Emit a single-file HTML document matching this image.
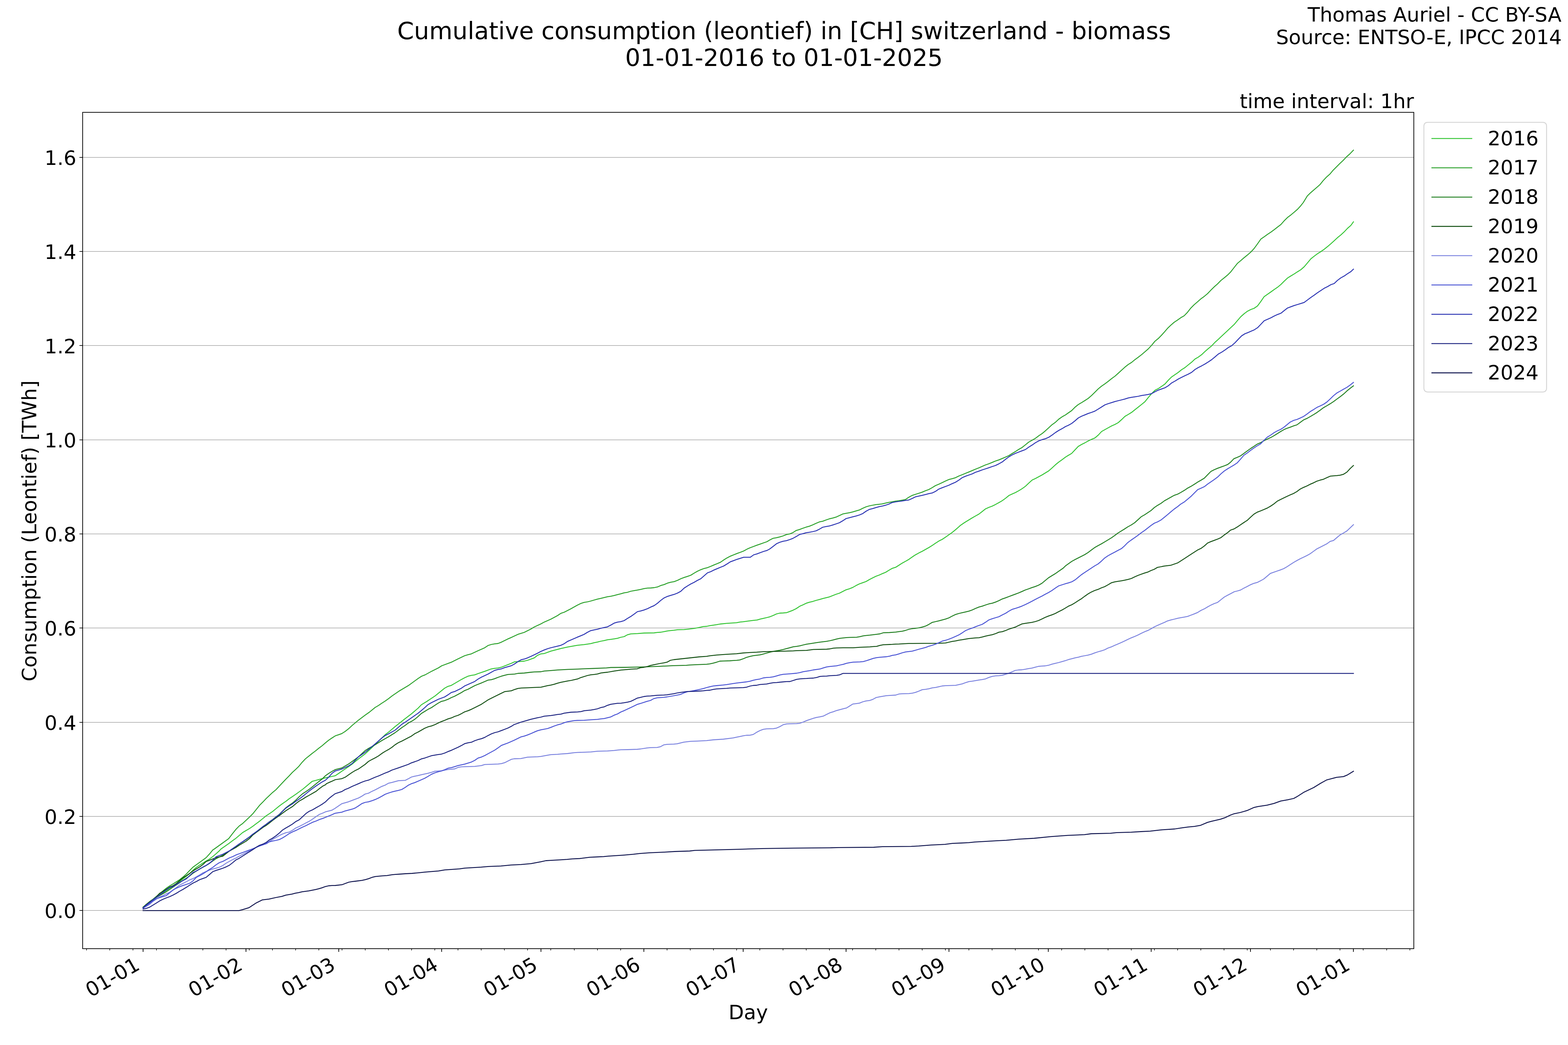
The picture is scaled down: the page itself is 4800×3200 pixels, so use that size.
<!DOCTYPE html>
<html lang="en">
<head>
<meta charset="utf-8">
<title>Cumulative consumption (leontief) in [CH] switzerland - biomass</title>
<style>
html,body{margin:0;padding:0;background:#ffffff;}
body{width:4800px;height:3200px;overflow:hidden;}
svg{display:block;}
svg text{white-space:pre;}
</style>
</head>
<body>
<svg width="4800" height="3200" viewBox="0 0 4800 3200" role="img" aria-label="Cumulative consumption chart">
<defs><clipPath id="axclip"><rect x="253" y="344" width="4075" height="2561"/></clipPath></defs>
<rect x="0" y="0" width="4800" height="3200" fill="#ffffff"/>
<g id="grid" fill="none" stroke="#b0b0b0" stroke-width="2.2222" stroke-linecap="butt">
<path d="M253 2788 H4328"/>
<path d="M253 2500 H4328"/>
<path d="M253 2212 H4328"/>
<path d="M253 1923 H4328"/>
<path d="M253 1635 H4328"/>
<path d="M253 1347 H4328"/>
<path d="M253 1058 H4328"/>
<path d="M253 770 H4328"/>
<path d="M253 482 H4328"/>
</g>
<g id="curves" fill="none" stroke-width="2.7778" stroke-linecap="square" stroke-linejoin="round" clip-path="url(#axclip)">
<path id="y2016" stroke="#31c431" d="M438 2778.8 L447.9 2770.7 L458.1 2762.2 L468.3 2754.6 L478.5 2747.7 L488.7 2740.9 L498.9 2733.9 L509.1 2726.9 L519.3 2719.9 L529.5 2713.5 L539.7 2706.5 L549.9 2699.5 L560.1 2691.2 L570.3 2683.5 L580.5 2675.3 L590.7 2665.1 L600.9 2656.1 L611.1 2649.1 L621.3 2642.7 L630.9 2636.6 L641.1 2630.6 L651.3 2623 L661.5 2614.3 L671.7 2605.1 L676.2 2600 L700 2583.4 L711.5 2574.7 L721.7 2567.3 L732.5 2558.2 L742.7 2549.5 L752.9 2543.5 L763.8 2537.1 L774 2530.1 L784.2 2522.4 L794.4 2514.8 L804.6 2506.5 L814.8 2498.2 L824.4 2491.8 L834.6 2484.8 L844.8 2476.5 L855 2468.2 L865.2 2460.6 L875.4 2453.6 L885.6 2445.7 L895.8 2438.9 L906 2431.9 L916.2 2424.5 L926.4 2417 L936.6 2408.7 L955.6 2392.6 L965.8 2390 L976 2387.2 L986.2 2384.3 L996.4 2381.8 L1006.6 2379.7 L1016.8 2377.5 L1026.4 2375.3 L1036.6 2368.5 L1046.3 2361.7 L1066.7 2347.9 L1078.2 2339.6 L1097.3 2323.9 L1117.8 2308.6 L1138.2 2289.4 L1158.6 2269.8 L1179 2249.9 L1189.2 2242.2 L1209.6 2224.9 L1224.9 2212.9 L1237.7 2202.7 L1259.3 2186.1 L1279.7 2168.8 L1289.9 2158.1 L1306.5 2148 L1331.8 2131.1 L1361.1 2107.4 L1371.3 2101.8 L1381.5 2098.8 L1391.7 2092.9 L1412.1 2080.9 L1422.3 2075.6 L1432.6 2070.7 L1442.8 2068.2 L1453 2066.6 L1463.2 2062.8 L1483.6 2055.9 L1504 2048.3 L1514.2 2046.7 L1524.4 2045.7 L1534.6 2043.2 L1544.8 2039.3 L1565.2 2031.2 L1575.4 2026.6 L1585.6 2026.1 L1604.7 2024.5 L1614.9 2022 L1635.4 2014.6 L1645.6 2006.7 L1655.8 2002.3 L1666 2001.3 L1686.4 1993.9 L1717 1985.8 L1737.4 1981.4 L1766.7 1976.2 L1788.1 1973.8 L1808.5 1970.9 L1818.7 1968.1 L1828.9 1966.1 L1839.1 1963.5 L1849.3 1961.7 L1859.5 1959.2 L1869.7 1957.9 L1879.9 1956.4 L1890.1 1954.6 L1900.3 1951.5 L1910.5 1949.5 L1920.7 1943.9 L1930.9 1941.1 L1941.1 1940.6 L1951.3 1940.1 L1971.7 1938.5 L2002.3 1938 L2012.6 1936.7 L2022.8 1936 L2033 1934.2 L2043.2 1932.1 L2053.4 1930.9 L2063.6 1929.8 L2073.8 1928.3 L2094.2 1927.8 L2104.4 1926.8 L2114.6 1925.7 L2124.8 1924.4 L2135 1922.5 L2145.2 1920.4 L2152.8 1918.6 L2163 1918 L2173.2 1915.9 L2193.6 1912.8 L2203.8 1911 L2224.2 1908.9 L2254.8 1906.9 L2265 1904.8 L2275.2 1903.8 L2295.6 1901.1 L2307.2 1899.7 L2317.4 1898.7 L2327.6 1895.6 L2337.8 1893.3 L2348 1891 L2356.6 1888.8 L2366.8 1884.8 L2377 1880 L2387.2 1877.5 L2397.4 1877 L2407.6 1876.2 L2417.8 1872.4 L2426.7 1869.1 L2436.9 1864 L2448.4 1856.3 L2457.3 1852.5 L2467.6 1847.4 L2477.8 1844.1 L2488 1841.8 L2498.2 1838.5 L2508.4 1835.9 L2518.6 1832.9 L2528.8 1830.3 L2539 1827.8 L2549.2 1823.7 L2559.4 1819.8 L2569.6 1816.5 L2579.8 1811.2 L2590 1806.1 L2600.2 1803 L2610.4 1798.9 L2620.6 1793.1 L2630.8 1788 L2641 1784.4 L2651.2 1780.8 L2661.4 1774.7 L2671.6 1769.6 L2681.8 1764.5 L2692 1760.7 L2702.2 1756.1 L2711.2 1752.5 L2721.4 1746.1 L2731.6 1740.3 L2741.8 1737.2 L2752 1730.8 L2762.2 1724.2 L2772.4 1718.6 L2782.6 1712.7 L2792.8 1705.3 L2803 1698.7 L2813.2 1693.1 L2823.4 1688 L2833.6 1682.3 L2843.8 1676.5 L2854 1670.1 L2864.2 1663.2 L2874.4 1656.6 L2884.6 1651.5 L2894.8 1644.6 L2905.1 1637.4 L2915.3 1630.1 L2924.2 1622.9 L2934.4 1614 L2940 1608.9 L2953 1600 L2965.7 1592.3 L2975.9 1586 L2986.1 1580.1 L2996.3 1574.5 L3006.5 1566.6 L3016.7 1558.4 L3026.9 1553.8 L3037.1 1550 L3047.3 1544.9 L3057.6 1539.3 L3067.8 1533.4 L3078 1526 L3088.2 1517.6 L3098.4 1512.8 L3108.6 1508.2 L3118.8 1502.6 L3129 1496.4 L3139.2 1489 L3149.4 1479.3 L3159.6 1469.9 L3169.8 1465.3 L3180 1459.7 L3190.2 1454.3 L3200.4 1448 L3210.6 1441.8 L3220.8 1432.7 L3231 1423.2 L3241.2 1414.9 L3251.4 1407.7 L3261.6 1399.9 L3270.2 1394.5 L3280.4 1388.6 L3290.6 1377.8 L3300.8 1367 L3311 1361 L3321.2 1355.9 L3331.4 1350.3 L3341.6 1345.2 L3351.8 1341.1 L3362 1332.4 L3372.2 1321.4 L3382.4 1315.6 L3392.7 1309.9 L3402.9 1304.3 L3413.1 1299.7 L3423.3 1294.1 L3433.5 1284.9 L3443.7 1275 L3453.9 1269.1 L3464.1 1262.8 L3474.3 1254.6 L3484.5 1246.7 L3494.7 1238.5 L3504.9 1230.1 L3515.1 1217.3 L3525.3 1205.4 L3535.5 1195.2 L3545.7 1190.1 L3555.9 1183.2 L3566.1 1176 L3576.3 1164.5 L3586.5 1154.3 L3596.7 1147.4 L3606.9 1140.3 L3617.1 1132.1 L3627.3 1125.8 L3637.6 1117.3 L3647.8 1109.2 L3658 1099.5 L3668.2 1093.6 L3678.4 1086.2 L3688.6 1076.5 L3698.8 1067.6 L3709 1059.2 L3719.2 1048.4 L3729.4 1039.2 L3739.6 1029.5 L3749.8 1020.1 L3767.9 1003 L3778.1 993.6 L3788.3 981.3 L3798.5 969.6 L3808.7 960.6 L3818.9 952.9 L3829.1 947.8 L3839.3 944 L3849.5 936.8 L3859.7 923.1 L3869.9 908.3 L3880.2 901.1 L3890.4 894 L3900.6 886.6 L3910.8 879.7 L3921 871.3 L3931.2 861.1 L3941.4 851.4 L3951.6 845 L3961.8 838.9 L3972 832.2 L3982.2 825.9 L3992.4 816.9 L4002.6 804.9 L4012.8 792.7 L4023 784.5 L4033.2 776.9 L4043.4 770.5 L4053.6 763.4 L4063.8 755.2 L4074 746.5 L4084.2 737.3 L4094.4 727.7 L4104.6 719.5 L4114.8 710.1 L4125.1 699.1 L4135.3 690.2 L4143.2 679.2"/>
<path id="y2017" stroke="#28a028" d="M438 2777.9 L447.9 2769.4 L458.1 2761 L468.3 2753.7 L478.5 2745.4 L488.7 2737.1 L498.9 2728.2 L509.1 2719.9 L519.3 2712.9 L529.5 2706.9 L539.7 2700.5 L549.9 2693.8 L560.1 2685.7 L570.3 2676.5 L580.5 2665.7 L590.7 2655.5 L600.9 2648.2 L611.1 2640.8 L621.3 2633.4 L630.9 2626.4 L641.1 2615.3 L651.3 2602.8 L655.8 2600 L700 2568.1 L711.5 2553.1 L721.7 2540.3 L732.5 2529.1 L742.7 2521.8 L752.9 2512.2 L763.8 2502 L774 2491.8 L784.2 2479.1 L794.4 2466.3 L804.6 2456.1 L814.8 2445.3 L824.4 2436.3 L834.6 2426.6 L844.8 2418.2 L855 2407.3 L874.6 2386.5 L884.8 2376.2 L895 2365.3 L905.2 2355.9 L914.8 2346.7 L925 2334.2 L935.2 2323.5 L945.4 2315.4 L955.6 2307.1 L965.8 2299.5 L976 2291.2 L986.2 2283.5 L996.4 2274.6 L1006.6 2266.4 L1016.8 2259.5 L1026.4 2253.3 L1036.6 2249.9 L1046.3 2246.4 L1056.5 2239.9 L1066.7 2231.9 L1078.2 2221.3 L1097.3 2205.3 L1117.8 2189.9 L1130.5 2181 L1148.4 2166.4 L1158.6 2160.4 L1168.8 2153.4 L1179 2146.9 L1189.2 2139.6 L1200.4 2130.9 L1220.8 2116.8 L1250.2 2099.3 L1270.6 2084.5 L1280.8 2077.1 L1291 2070.5 L1301.2 2066.6 L1321.6 2055.4 L1342 2045.2 L1352.2 2038.8 L1381.5 2027.9 L1401.9 2017.7 L1422.3 2008 L1432.6 2004.9 L1442.8 2002.3 L1463.2 1992.7 L1483.6 1983.7 L1493.8 1976.8 L1504 1973.5 L1514.2 1971.7 L1524.4 1970.5 L1534.6 1966.6 L1555 1956.4 L1565.2 1952.1 L1585.6 1942.4 L1604.7 1936.5 L1625.2 1926.3 L1635.4 1919.9 L1655.8 1910.5 L1666 1904.9 L1686.4 1896 L1706.8 1885 L1717 1878.1 L1727.2 1874.8 L1747.6 1864.3 L1766.7 1853.5 L1777.9 1847.9 L1788.1 1844.6 L1798.3 1843 L1808.5 1840.5 L1818.7 1837.5 L1828.9 1834.7 L1839.1 1832.4 L1849.3 1829.8 L1859.5 1827.3 L1869.7 1825.8 L1879.9 1823.7 L1890.1 1820.9 L1900.3 1818.4 L1910.5 1815.3 L1920.7 1813.8 L1930.9 1810.5 L1941.1 1808.7 L1951.3 1806.9 L1961.5 1804.8 L1971.7 1802.3 L1981.9 1800.8 L1992.1 1800.5 L2002.3 1799.5 L2012.6 1797.4 L2022.8 1792.9 L2033 1790.1 L2043.2 1785.7 L2053.4 1782.9 L2063.6 1781.1 L2073.8 1777.3 L2084 1772.2 L2094.2 1768.4 L2104.4 1765.1 L2114.6 1761.5 L2124.8 1755.1 L2135 1749.2 L2145.2 1744.6 L2155.4 1740.8 L2165.6 1738.3 L2175.8 1734.2 L2184.7 1730.4 L2194.9 1726.3 L2205.2 1721.9 L2215.4 1714.8 L2225.6 1708.4 L2235.8 1703.1 L2246 1699 L2256.2 1694.9 L2266.4 1691.3 L2276.6 1687.2 L2286.8 1681.6 L2297 1677 L2307.2 1673.2 L2317.4 1669.4 L2327.6 1665.9 L2337.8 1662.3 L2348 1658.8 L2356.6 1653.4 L2366.8 1648.3 L2377 1646.6 L2387.2 1644.1 L2397.4 1641 L2407.6 1636.9 L2417.8 1634.9 L2426.7 1631.3 L2436.9 1624.7 L2447.1 1621.6 L2457.3 1617.8 L2467.6 1614.2 L2477.8 1611.4 L2488 1607.3 L2498.2 1602.5 L2508.4 1598.2 L2518.6 1596.1 L2528.8 1592.3 L2539 1588.7 L2549.2 1586.4 L2559.4 1583.4 L2569.6 1578.8 L2579.8 1573.9 L2590 1571.9 L2600.2 1570.1 L2610.4 1567.6 L2620.6 1564.7 L2630.8 1561.7 L2641 1556.6 L2651.2 1552 L2661.4 1549 L2671.6 1547 L2681.8 1545.2 L2692 1544.2 L2700.4 1543.2 L2710.6 1540.7 L2720.8 1538.4 L2731 1536.7 L2741.2 1534.7 L2751.4 1533.4 L2761.6 1531.6 L2771.8 1529.6 L2782 1522.7 L2792.2 1517.1 L2802.4 1513.8 L2812.7 1510.5 L2822.9 1507.1 L2833.1 1502.8 L2843.3 1499 L2853.5 1493.4 L2863.7 1487 L2873.9 1482.7 L2884.1 1478.1 L2894.3 1473 L2904.5 1468.4 L2914.7 1465.8 L2924.9 1462.8 L2935.1 1457.7 L2945.3 1453.8 L2955.5 1449.5 L2965.7 1445.4 L2975.9 1441.1 L2986.1 1436.7 L2996.3 1432.7 L3006.5 1428.3 L3016.7 1423.7 L3026.9 1420.2 L3037.1 1416.1 L3047.3 1411.7 L3057.6 1408.4 L3067.8 1404.1 L3078 1399.7 L3088.2 1395.2 L3098.4 1388.8 L3108.6 1382.7 L3118.8 1376 L3129 1370.2 L3139.2 1362 L3149.4 1353.6 L3159.6 1348 L3169.8 1342.1 L3180 1334.4 L3190.2 1327.6 L3200.4 1319.1 L3210.6 1309.7 L3220.8 1300.3 L3231 1293.1 L3241.2 1283.5 L3251.4 1276.3 L3261.6 1270.6 L3270.2 1264.5 L3280.4 1257.5 L3290.6 1247.2 L3300.8 1238.9 L3311 1232.9 L3321.2 1226.5 L3331.4 1219.9 L3341.6 1211 L3351.8 1201 L3362 1190.8 L3372.2 1182.4 L3382.4 1175.3 L3392.7 1167.6 L3402.9 1159.4 L3413.1 1152 L3423.3 1142.9 L3433.5 1133.4 L3443.7 1124.2 L3453.9 1116.1 L3464.1 1109.7 L3474.3 1101.3 L3484.5 1093.9 L3494.7 1086 L3504.9 1077.3 L3515.1 1068.4 L3525.3 1057.4 L3535.5 1045 L3545.7 1036.7 L3555.9 1026.3 L3566.1 1014.9 L3574 1005.6 L3584.2 995.8 L3594.4 986.9 L3604.6 980.1 L3614.8 972.8 L3625.1 966.9 L3635.3 956.2 L3645.5 943.2 L3655.7 933 L3665.9 924.3 L3676.1 915.2 L3686.3 907.8 L3696.5 899.3 L3706.7 888.6 L3716.9 878.4 L3727.1 869.5 L3737.3 859 L3747.5 850.9 L3757.7 842.4 L3767.9 832.2 L3778.1 819 L3788.3 806.2 L3798.5 797.8 L3808.7 788.9 L3818.9 780.7 L3829.1 771.8 L3839.3 760.8 L3849.5 746.8 L3859.7 732.2 L3869.9 725.1 L3880.2 717.7 L3890.4 710.8 L3900.6 703.4 L3910.8 695.3 L3921 687.6 L3931.2 676.1 L3941.4 665.9 L3951.6 658.3 L3961.8 649.8 L3972 640.9 L3982.2 629.7 L3989.8 620 L4002 600 L4012.2 590.1 L4031.4 573.5 L4040.3 565.8 L4050.5 553.1 L4060.7 542.2 L4070.9 533.3 L4081.1 521.2 L4091.3 511 L4101.5 500.8 L4111.7 491.2 L4121.9 480.4 L4132.1 471.4 L4143.2 459.7"/>
<path id="y2018" stroke="#1f7e1f" d="M438 2779.2 L447.9 2770.9 L458.1 2762.6 L468.3 2755.6 L478.5 2748.6 L488.7 2742.2 L498.9 2736.5 L509.1 2730.7 L519.3 2723.7 L529.5 2716.7 L539.7 2709.9 L549.9 2703.1 L560.1 2695.9 L570.3 2689.3 L580.5 2682.3 L590.7 2674 L600.9 2667.3 L611.1 2661.2 L621.3 2655.5 L630.9 2650.4 L641.1 2644 L651.3 2636.4 L661.5 2629.3 L671.7 2624.2 L681.9 2618.9 L692.1 2612.4 L702.3 2605.9 L721.7 2592.5 L732.5 2584.7 L742.7 2578.1 L752.9 2571 L763.8 2563.3 L774 2554.6 L784.2 2547.3 L794.4 2539.7 L804.6 2531.4 L814.8 2524 L824.4 2516.7 L834.6 2509.7 L844.8 2501.4 L855 2493.8 L865.2 2483.5 L875.4 2473.3 L885.6 2465.7 L895.8 2458.7 L906 2449.7 L916.2 2439.5 L926.4 2430.5 L936.6 2424 L946.8 2416.8 L957 2408.9 L976 2393.3 L986.2 2385.4 L996.4 2375.3 L1006.6 2368.1 L1016.8 2361.9 L1026.4 2356.7 L1036.6 2354.1 L1046.3 2351.6 L1066.7 2339.8 L1078.2 2331.6 L1097.3 2317.5 L1117.8 2298.4 L1128 2292 L1148.4 2280.5 L1168.8 2267.8 L1189.2 2256.3 L1209.6 2243.5 L1219.8 2235.9 L1230 2228.2 L1240.2 2221.3 L1250.4 2213.7 L1259.3 2209.1 L1269.5 2202.7 L1279.7 2194.3 L1289.9 2184.8 L1300.2 2178.5 L1310.4 2172.1 L1320.6 2167 L1330.8 2160.1 L1341 2153.4 L1351.2 2147.8 L1361.4 2145.3 L1371.3 2141.4 L1381.5 2136.3 L1391.7 2132 L1412.1 2121 L1422.3 2114.6 L1432.6 2110.8 L1453 2099.8 L1463.2 2095.5 L1473.4 2091.6 L1493.8 2082.7 L1504 2081.4 L1514.2 2078.4 L1524.4 2074.3 L1534.6 2070.7 L1544.8 2067.9 L1555 2065.4 L1575.4 2064.1 L1585.6 2062 L1604.7 2061 L1625.2 2058.5 L1635.4 2057.6 L1655.8 2057 L1666 2054.9 L1686.3 2053.3 L1706.7 2051.7 L1738.6 2049.8 L1769.2 2048.8 L1789.6 2047.8 L1815.1 2047 L1855.9 2045.3 L1869.9 2044 L1917.1 2043.5 L1968.2 2042.4 L2019.2 2040.4 L2060 2038.4 L2100.8 2037.3 L2111 2036.3 L2131.4 2035.4 L2163 2034.1 L2173.2 2032.8 L2183.4 2030.6 L2193.6 2027.8 L2203.8 2024.5 L2214 2024.2 L2234.4 2023.5 L2244.6 2022.7 L2254.8 2022.2 L2265 2020.9 L2275.2 2017.3 L2285.4 2013 L2295.6 2010.2 L2305.8 2007.9 L2316 2006.6 L2326.2 2005.4 L2336.4 2002.8 L2346.6 2000 L2356.8 1997.2 L2367 1994.6 L2377.2 1992.9 L2387.4 1991.1 L2397.7 1988.8 L2407.9 1986.2 L2418.1 1983.4 L2428.3 1980.6 L2438.5 1979.3 L2448.7 1977.6 L2458.9 1975 L2469.1 1972.7 L2479.3 1971.2 L2499.7 1967.9 L2509.9 1966.3 L2530.3 1963.8 L2540.5 1962 L2550.7 1959.7 L2560.9 1956.9 L2571.1 1954.6 L2591.5 1952.3 L2601.7 1951.8 L2622.1 1951.3 L2632.3 1949.7 L2642.6 1947.2 L2652.8 1945.9 L2663 1944.9 L2673.2 1943.6 L2683.4 1942.3 L2693.6 1941 L2703.8 1937.7 L2722.7 1937 L2741.8 1935.7 L2752 1934.2 L2762.2 1932.9 L2772.4 1930.3 L2782.6 1927 L2792.8 1925 L2803 1924 L2813.2 1922.5 L2823.4 1920.2 L2833.5 1917.2 L2843.7 1911.9 L2853.9 1905.8 L2864.1 1903.5 L2874.3 1901.2 L2884.5 1898.4 L2894.7 1895.6 L2904.9 1892 L2915.2 1886.4 L2925.4 1881.6 L2935.6 1878.5 L2945.8 1876.2 L2956 1873.9 L2966.2 1871.4 L2976.4 1867.8 L2986.6 1863 L2996.8 1858.9 L3007 1856.1 L3017.2 1852.5 L3027.4 1849.2 L3037.6 1847.1 L3047.8 1843.6 L3058 1839.2 L3068.2 1834.1 L3078.4 1830.6 L3088.6 1826.7 L3098.8 1822.9 L3107.8 1819.6 L3118 1815.8 L3128.2 1811.4 L3138.4 1806.8 L3148.6 1803.3 L3158.8 1799.4 L3169 1796.1 L3179.2 1792 L3189.4 1786.2 L3199.6 1777.8 L3209.8 1769.3 L3220 1763 L3230.2 1756.8 L3240.4 1749.7 L3254.4 1740 L3261.6 1732.9 L3280.8 1719.1 L3291.4 1713.3 L3310.2 1703.7 L3320.4 1698.5 L3330.6 1692.1 L3340.8 1684.4 L3351 1676.8 L3361.2 1671 L3371.4 1665.5 L3381.8 1659.4 L3402 1647.1 L3412.6 1639.7 L3422.2 1632.4 L3442.3 1620 L3451.9 1613.6 L3462.5 1607.9 L3473.2 1600.9 L3482.7 1592.4 L3493.4 1582.4 L3504 1576.4 L3523.1 1563.7 L3533.8 1554.1 L3543.3 1547.7 L3554 1541.4 L3564.6 1533.5 L3574.1 1528.2 L3584.8 1522.2 L3594.3 1516.9 L3605 1513.3 L3614.5 1508.1 L3625.2 1501.8 L3634.7 1495.3 L3645.4 1489.6 L3656.1 1483 L3666.3 1476.3 L3676.5 1470.5 L3686.7 1464.3 L3696.9 1453.8 L3707.1 1443.4 L3717.3 1438.3 L3727.6 1433.9 L3737.8 1430.1 L3748 1426.5 L3758.2 1422.4 L3767.1 1415.3 L3777.3 1404.6 L3787.5 1400.5 L3797.7 1395.9 L3807.9 1388.3 L3818.1 1380.9 L3828.3 1373.5 L3838.5 1366.8 L3848.7 1359.9 L3858.9 1355.4 L3869.1 1349.7 L3879.3 1344.6 L3889.5 1340.1 L3899.7 1334.4 L3909.9 1328 L3920.2 1321.5 L3930.4 1315.6 L3939.3 1311.7 L3949.7 1308.1 L3959.9 1304.2 L3970.2 1301 L3980.4 1293.3 L3990.6 1285.8 L4000.8 1281.4 L4011 1275.6 L4021.2 1269.6 L4031.4 1263.2 L4041.6 1255.8 L4051.8 1248.2 L4062 1242.4 L4072.2 1236.3 L4082.4 1229.7 L4092.6 1222 L4102.8 1214.6 L4113 1206.7 L4123.2 1197.2 L4133.4 1188.9 L4143.2 1181.5"/>
<path id="y2019" stroke="#135013" d="M438 2778.6 L447.9 2769.6 L458.1 2761.4 L468.3 2755 L478.5 2746 L488.7 2735.5 L498.9 2729.5 L509.1 2723.1 L519.3 2716.3 L529.5 2712.2 L539.7 2705.6 L549.9 2696.6 L560.1 2688 L570.3 2681.6 L580.5 2674.6 L590.7 2667 L600.9 2660.8 L611.1 2654.8 L621.3 2647.2 L630.9 2638.3 L641.1 2634.4 L651.3 2630.2 L661.5 2626.4 L671.7 2624 L681.9 2621.9 L692.1 2613.9 L702.3 2606 L721.7 2595.4 L732.5 2588.1 L742.7 2582.1 L752.9 2576.1 L763.8 2567.7 L774 2556.9 L784.2 2549.2 L794.4 2541.6 L804.6 2533.9 L814.8 2527.6 L824.4 2520.5 L834.6 2512.2 L844.8 2504.6 L855 2497.6 L865.2 2489.9 L875.4 2482.3 L885.6 2475.9 L895.8 2469.5 L906 2460.6 L916.2 2452.9 L926.4 2447.2 L936.6 2440.8 L946.8 2435.1 L957 2429.3 L967.9 2423 L978.1 2414.7 L988.3 2407.1 L996.6 2402.9 L999 2400 L1006.6 2396.4 L1016.8 2392 L1026.4 2387.5 L1036.6 2386 L1046.8 2384.3 L1057 2379.8 L1067.2 2372.7 L1077.4 2365.6 L1087.6 2359.4 L1097.3 2354.8 L1117.8 2340.6 L1128 2331.6 L1138.2 2325.9 L1148.4 2320.8 L1158.6 2314.9 L1168.8 2307.3 L1179 2300.9 L1189.2 2295.3 L1199.4 2288.7 L1209.6 2280.5 L1219.8 2274.1 L1230 2269.5 L1250.4 2258.8 L1259.3 2254.2 L1269.5 2246.8 L1279.7 2241.7 L1300.2 2230 L1310.4 2225.7 L1320.6 2223.1 L1330.8 2219.3 L1341 2214.2 L1351.2 2209.6 L1361.4 2205.8 L1371.6 2201.4 L1381.8 2198.4 L1392 2193.8 L1402.2 2190.5 L1412.4 2185.4 L1422.6 2179.7 L1432.8 2176.4 L1443 2172.1 L1453.2 2167 L1473.6 2156.7 L1493.8 2143.3 L1514.2 2133 L1524.4 2127.9 L1544.8 2117.9 L1565.2 2115.4 L1575.4 2111.3 L1585.6 2108.2 L1595.8 2106.9 L1614.9 2106.2 L1635.4 2105.1 L1655.8 2104.3 L1676.1 2099.7 L1686.3 2097.9 L1696.5 2095.3 L1706.7 2092.2 L1716.9 2089.4 L1738.6 2085.1 L1748.8 2083.5 L1759 2081.2 L1767.9 2079.2 L1778.1 2074.8 L1798.5 2068.5 L1808.7 2066.4 L1818.9 2065.4 L1829.1 2063.9 L1839.3 2060.8 L1849.5 2059.5 L1859.7 2058.5 L1880.2 2054.9 L1900.6 2051.9 L1921 2050.1 L1931.2 2049.1 L1950.3 2048.1 L1960.5 2044.7 L1970.7 2043.5 L1980.9 2041.2 L1991.1 2037.9 L2001.3 2035.6 L2021.7 2031.5 L2031.9 2029.9 L2042.1 2027.7 L2052.3 2022 L2062.6 2020 L2140 2011.5 L2163 2009.9 L2173.2 2008.2 L2193.6 2005.9 L2224.2 2003.6 L2254.8 2001.8 L2275.2 1999.5 L2295.6 1998.2 L2316 1997.2 L2336.4 1995.7 L2356.8 1995.2 L2397.7 1994.1 L2428.3 1993.1 L2438.5 1992.3 L2469.1 1991.6 L2489.5 1988.8 L2530.3 1988 L2540.5 1987 L2550.7 1984.9 L2560.9 1984.2 L2581.3 1983.7 L2611.9 1983.7 L2622.1 1982.9 L2632.3 1982.1 L2663 1980.9 L2673.2 1979.8 L2683.4 1979.3 L2693.6 1976.4 L2703.8 1974.3 L2724.2 1973.5 L2731.5 1973.1 L2741.7 1972.3 L2751.9 1972.1 L2782.5 1970.4 L2823.3 1970.1 L2874.3 1969.8 L2894.7 1968.8 L2904.9 1966.5 L2915.2 1964.2 L2925.4 1962.7 L2935.6 1960.4 L2945.8 1958.9 L2956 1957.1 L2966.2 1955.3 L2976.4 1954.3 L2986.6 1953.3 L2996.8 1952.8 L3007 1950.7 L3017.2 1947.9 L3027.4 1945.6 L3037.6 1943.6 L3047.8 1940.3 L3058 1935.9 L3068.2 1934.4 L3078.4 1930.8 L3088.6 1926.5 L3098.8 1923.2 L3107.8 1920.4 L3118 1915.5 L3128.2 1910.7 L3138.4 1908.9 L3148.6 1907.3 L3158.8 1905.8 L3169 1903.5 L3179.2 1900.2 L3189.4 1895.6 L3199.6 1890.5 L3209.8 1886.4 L3220 1882.9 L3230.2 1878.8 L3240.4 1873.2 L3250.6 1868.3 L3260.8 1862.4 L3271 1856.1 L3281.2 1851.7 L3291.4 1845.6 L3301.6 1838.9 L3310.2 1833.7 L3320.4 1826 L3330.6 1818.8 L3340.8 1812.9 L3351 1808.3 L3361.2 1804.9 L3371.4 1800.3 L3381.6 1796.5 L3391.8 1790.9 L3402 1784.7 L3412.2 1781.9 L3422.4 1780.2 L3432.7 1778.6 L3442.9 1776.6 L3453.1 1774.3 L3463.3 1771.5 L3473.5 1766.6 L3483.7 1762 L3493.9 1758.2 L3504.1 1754.6 L3514.3 1751.6 L3523.2 1747.2 L3533.4 1743.3 L3543.6 1737.3 L3553.8 1735.5 L3564 1733.3 L3584.8 1730.8 L3605 1723.8 L3625.2 1710.8 L3645.4 1697.6 L3665.6 1684.6 L3676.5 1679.3 L3686.7 1671.9 L3696.9 1662.7 L3707.1 1658.4 L3717.3 1654.6 L3727.6 1650.8 L3737.8 1646.2 L3748 1638 L3758.2 1630.9 L3767.1 1623.2 L3777.3 1619.9 L3787.5 1613.8 L3797.7 1606.9 L3807.9 1600 L3818.1 1593.4 L3828.3 1583.7 L3838.5 1574.5 L3848.7 1568.4 L3858.9 1564.5 L3869.1 1560.2 L3879.3 1555.9 L3889.5 1550 L3899.7 1543.1 L3909.9 1534.7 L3920.2 1529.6 L3930.4 1524.5 L3939.3 1520.2 L3949.5 1515.6 L3959.7 1511.2 L3969.9 1505.4 L3980.1 1497.7 L3990.3 1492.6 L4000.5 1488.3 L4010.7 1482.9 L4020.9 1478.6 L4031.1 1473.5 L4041.3 1470.2 L4051.5 1467.6 L4061.7 1462.8 L4071.9 1458.2 L4082.1 1457.1 L4092.3 1456.4 L4102.6 1455.1 L4112.8 1452.3 L4123 1445.9 L4133.2 1434.7 L4143.2 1425.5"/>
<path id="y2020" stroke="#7b83df" d="M438 2781.1 L458.1 2769.6 L468.3 2760.1 L478.5 2753.1 L488.7 2746.7 L498.9 2742.2 L509.1 2737.1 L519.3 2732.7 L529.5 2725.6 L539.7 2718 L549.9 2710.3 L560.1 2705.2 L570.3 2700.1 L580.5 2694.4 L590.7 2690.6 L600.9 2685.2 L611.1 2679.1 L621.3 2672.7 L630.9 2668.9 L641.1 2664.4 L651.3 2661.2 L661.5 2658.7 L671.7 2655.5 L681.9 2650.4 L692.1 2643.4 L702.3 2637.6 L712.5 2632.1 L722.7 2627.4 L730 2623 L774 2600 L794.4 2590.1 L814.8 2582.4 L824.4 2576.7 L834.6 2570.3 L844.8 2564.5 L855 2558.8 L865.2 2553.7 L875.4 2549.9 L885.6 2548 L895.8 2542.2 L906 2535.2 L916.2 2530.7 L926.4 2525.6 L936.6 2519.9 L946.8 2514.8 L957 2508.2 L967.9 2500.3 L978.1 2493.7 L988.3 2489.7 L996.6 2485.9 L1015.7 2481.2 L1025.9 2475.1 L1046.3 2461.1 L1066.7 2455.3 L1078.2 2450.9 L1097.3 2443.8 L1107.6 2438.2 L1117.8 2431.5 L1128 2429 L1138.2 2423.4 L1148.4 2418.8 L1168.8 2408.1 L1179 2404.2 L1189.2 2398.4 L1199.4 2396.1 L1219.8 2390.7 L1240.2 2389.7 L1250.4 2384.6 L1259.3 2379.5 L1269.5 2376.9 L1279.7 2374.9 L1289.9 2372.3 L1310.4 2367.8 L1320.6 2365.2 L1330.8 2361.6 L1351.2 2360.4 L1361.4 2358.3 L1371.6 2356.3 L1392 2354.5 L1402.2 2349.9 L1412.4 2348.1 L1453.2 2346.8 L1473.6 2344.3 L1483.8 2341.2 L1524.6 2339.7 L1534.8 2338.4 L1545.1 2335.4 L1555.3 2330.3 L1565.5 2325.2 L1574 2323.5 L1594.4 2322.8 L1614.8 2318.7 L1625.1 2318.2 L1645.5 2317.4 L1655.7 2316.4 L1676.1 2312.6 L1686.3 2310.8 L1706.7 2309.8 L1716.9 2308.8 L1737.3 2307.5 L1757.7 2304.9 L1767.9 2304.2 L1808.7 2302.7 L1829.1 2300.4 L1859.7 2299.6 L1880.2 2298.1 L1890.4 2296.8 L1900.6 2295.8 L1921 2295.5 L1950.3 2294.5 L1960.5 2293.5 L1980.9 2290.4 L1991.1 2289.4 L2011.5 2288.9 L2021.7 2286.6 L2031.9 2281 L2042.1 2279.4 L2062.6 2278.7 L2072.8 2277.7 L2093.2 2272.6 L2113.6 2270.1 L2134 2269.4 L2163 2267.9 L2183.4 2265.5 L2214 2263.5 L2244.6 2259.7 L2254.8 2257.4 L2265 2255.4 L2275.2 2253.1 L2285.4 2251.5 L2295.6 2251.3 L2305.8 2249.2 L2316 2242.6 L2326.2 2237.2 L2336.4 2233.4 L2346.6 2231.9 L2367 2231.4 L2377.2 2229.6 L2387.4 2225 L2397.7 2219.1 L2407.9 2216.8 L2418.1 2216.3 L2438.5 2215.8 L2448.7 2214.8 L2458.9 2211 L2469.1 2206.6 L2479.3 2203.1 L2489.5 2199.7 L2499.7 2196.9 L2509.9 2195.2 L2520.1 2192.9 L2530.3 2187.8 L2540.5 2182.7 L2550.7 2179.6 L2560.9 2175.8 L2571.1 2173.2 L2581.3 2170.4 L2591.5 2167.9 L2601.7 2161.5 L2610.7 2155.9 L2620.9 2154.6 L2631.1 2153.1 L2641.3 2149 L2651.5 2146.4 L2661.7 2145.2 L2671.9 2141.6 L2682.1 2136 L2692.3 2133.9 L2702.5 2132.2 L2712.7 2130.4 L2722.9 2129.6 L2741.7 2128.5 L2751.9 2125.2 L2762.1 2124.4 L2782.5 2123.9 L2792.7 2122.7 L2802.9 2120.1 L2813.1 2116.3 L2823.3 2111.9 L2833.5 2110.9 L2843.7 2109.1 L2853.9 2106.3 L2864.1 2105.1 L2874.3 2102.8 L2884.5 2100.5 L2894.7 2099.7 L2925.4 2098.7 L2935.6 2096.4 L2945.8 2094.1 L2956 2090.3 L2966.2 2087.2 L2976.4 2085.9 L2996.8 2082.3 L3007 2080.8 L3017.2 2078.8 L3027.4 2074.4 L3037.6 2071.1 L3047.8 2069.6 L3058 2069.1 L3068.2 2067.8 L3078.4 2064.7 L3088.6 2061.4 L3098.8 2057.1 L3107.8 2053 L3118 2051.5 L3128.2 2051 L3138.4 2049.4 L3148.6 2047.4 L3158.8 2045.9 L3169 2043.1 L3179.2 2040.5 L3189.4 2039.7 L3199.6 2039 L3209.8 2037.2 L3220 2033.9 L3230.2 2031.3 L3240.4 2029 L3250.6 2026.2 L3260.8 2023.2 L3271 2019.7 L3281.2 2017.2 L3291.4 2014.4 L3301.6 2012.3 L3310.2 2009.8 L3320.4 2008 L3330.6 2006.2 L3340.8 2003.4 L3351 1999.4 L3361.2 1996 L3371.4 1993.2 L3381.6 1989.8 L3391.8 1984.5 L3402 1980.9 L3412.2 1976.3 L3422.4 1972 L3432.7 1967.4 L3442.9 1962.8 L3453.1 1957.7 L3463.3 1953.1 L3473.5 1949 L3483.7 1944.4 L3493.9 1939.3 L3504.1 1934.5 L3514.3 1930.4 L3523.2 1925.8 L3533.4 1919.7 L3543.6 1915.1 L3553.8 1910.5 L3564 1906.2 L3574.2 1901.3 L3584.4 1898.3 L3594.6 1896 L3604.8 1893.4 L3615.1 1891.4 L3625.3 1889.6 L3635.5 1887.6 L3645.7 1883.7 L3655.9 1879.9 L3666.1 1875.6 L3676.3 1869.2 L3686.5 1864.6 L3696.7 1858.5 L3706.9 1852.9 L3717.1 1848.3 L3727.3 1844.7 L3737.5 1836.5 L3747.7 1828.4 L3757.9 1822.8 L3768.1 1817.4 L3778.3 1812 L3788.5 1809.5 L3797.4 1806.9 L3807.7 1801.1 L3817.9 1796 L3828.1 1790.6 L3838.3 1786.3 L3848.5 1783.7 L3858.7 1778.6 L3868.9 1772.9 L3889 1755.9 L3909.4 1748.7 L3918.6 1745.6 L3929.8 1741.3 L3940 1735.4 L3950.2 1728.6 L3960.4 1722.1 L3970.6 1716.3 L3980.8 1710.7 L3991 1706.1 L4001.2 1701 L4010.4 1695.9 L4020.6 1688.5 L4030.8 1681.1 L4041.3 1675.8 L4051.5 1670.4 L4061.7 1665.3 L4071.9 1657.9 L4082.1 1655.1 L4092.3 1646.4 L4102.6 1637.8 L4112.8 1632.1 L4123 1626 L4133.2 1616.3 L4143.2 1606.6"/>
<path id="y2021" stroke="#4953d4" d="M438 2780.5 L468.3 2758.8 L478.5 2752.4 L488.7 2748.6 L498.9 2745.4 L509.1 2742.6 L519.3 2733.9 L529.5 2725.6 L539.7 2719.9 L549.9 2715.4 L560.1 2711.6 L570.3 2708.2 L580.5 2704.8 L590.7 2697.6 L600.9 2686.7 L611.1 2681.6 L621.3 2675.9 L630.9 2669.5 L641.1 2662.5 L651.3 2656.1 L661.5 2648.2 L671.7 2641.5 L681.9 2637.9 L692.1 2632.5 L702.3 2627 L712.5 2623 L722.7 2617.9 L730 2615.3 L771.4 2600 L794.4 2590.7 L814.8 2583.7 L824.4 2577.9 L834.6 2575.4 L844.8 2573.5 L855 2570.9 L865.2 2565.8 L875.4 2559.4 L885.6 2552.4 L895.8 2547.3 L906 2542.9 L916.2 2537.8 L926.4 2532.7 L936.6 2528.2 L946.8 2523.1 L957 2517.9 L967.9 2514 L978.1 2509.4 L988.3 2506.1 L996.6 2502.8 L1015.7 2495 L1025.9 2490.3 L1046.3 2487.1 L1056.5 2483.3 L1078.2 2477.7 L1087.1 2474.4 L1097.3 2468 L1107.6 2460.9 L1117.8 2457 L1128 2455.3 L1138.2 2452.2 L1148.4 2448.4 L1158.6 2443.8 L1168.8 2438.2 L1179 2432.3 L1189.2 2428.5 L1199.4 2425.2 L1209.6 2422.6 L1219.8 2420.3 L1230 2417.5 L1240.2 2411.4 L1250.4 2404.2 L1259.3 2399.9 L1269.5 2396.6 L1279.7 2392.2 L1289.9 2387.7 L1300.2 2383.3 L1310.4 2377.4 L1320.6 2371.1 L1330.8 2366.7 L1341 2363.4 L1351.2 2360.9 L1361.4 2357 L1371.6 2352.4 L1381.8 2350.7 L1392 2347.6 L1402.2 2344.3 L1422.6 2339.9 L1443 2333.6 L1453.2 2328.5 L1463.4 2321.3 L1473.6 2318.3 L1483.8 2313.7 L1494 2308.1 L1514.4 2297.1 L1524.6 2290.2 L1534.8 2282.6 L1555.3 2275 L1574 2266.8 L1594.4 2256.7 L1604.6 2254.1 L1614.8 2250.6 L1625.1 2246.5 L1635.3 2241.9 L1645.5 2237.6 L1655.7 2234.8 L1676.1 2231 L1686.3 2227.4 L1696.5 2223.3 L1706.7 2219.7 L1716.9 2217.2 L1727.1 2213.1 L1737.3 2210.1 L1757.7 2206.7 L1767.9 2206 L1788.3 2205.7 L1808.7 2204.2 L1829.1 2202.9 L1839.3 2201.4 L1849.5 2200.4 L1859.7 2197.8 L1869.9 2195.3 L1880.2 2189.9 L1890.4 2186.3 L1900.6 2180.2 L1910.8 2176.1 L1921 2171.3 L1931.2 2166.4 L1940.1 2162.3 L1950.3 2157.2 L1960.5 2154.2 L1980.9 2147.6 L1991.1 2145 L2001.3 2139.4 L2011.5 2136.8 L2031.9 2135.3 L2042.1 2134 L2062.6 2130.5 L2083 2126.6 L2093.2 2122 L2103.4 2118.5 L2123.8 2114.9 L2144.2 2110.7 L2152.8 2108.6 L2163 2105.5 L2173.2 2102.8 L2183.4 2100.7 L2193.6 2099.5 L2214 2097.7 L2224.2 2096.4 L2244.6 2093.1 L2254.8 2091.6 L2285.4 2088 L2295.6 2086.2 L2305.8 2083.2 L2316 2080.9 L2326.2 2079.3 L2336.4 2076 L2346.6 2074.7 L2356.8 2074.2 L2367 2072.7 L2377.2 2069.9 L2387.4 2066.8 L2397.7 2064.8 L2418.1 2063.3 L2438.5 2061.5 L2448.7 2059.7 L2458.9 2056.9 L2479.3 2053.6 L2489.5 2051.5 L2509.9 2048.7 L2520.1 2045.4 L2530.3 2042.3 L2540.5 2040.8 L2560.9 2038.8 L2571.1 2036.5 L2581.3 2034.4 L2591.5 2031.1 L2601.7 2029.1 L2611.9 2027.6 L2632.3 2026.8 L2642.6 2025.8 L2652.8 2023 L2663 2019.6 L2673.2 2016.1 L2683.4 2013.8 L2693.6 2012.7 L2714 2011 L2724.2 2009.1 L2731.5 2006.9 L2741.7 2005.3 L2751.9 2002.4 L2762.1 1999 L2772.3 1996.4 L2782.5 1995.1 L2792.7 1993.8 L2802.9 1991 L2813.1 1988 L2823.3 1985.4 L2833.5 1982.6 L2843.7 1978.8 L2853.9 1976 L2864.1 1972.4 L2874.3 1968.1 L2884.5 1963.2 L2894.7 1960.7 L2904.9 1957.3 L2915.2 1953.3 L2925.4 1948.7 L2935.6 1944.1 L2945.8 1937.7 L2956 1930.8 L2966.2 1926.7 L2976.4 1923.2 L2986.6 1919.1 L2996.8 1915.3 L3007 1911.7 L3017.2 1905.3 L3027.4 1898.2 L3037.6 1894.6 L3047.8 1891.5 L3058 1888.5 L3068.2 1883.1 L3078.4 1878 L3088.6 1871.4 L3098.8 1865.8 L3107.8 1863.2 L3118 1859.9 L3128.2 1856.1 L3138.4 1851.5 L3148.6 1846.6 L3158.8 1841.3 L3169 1835.7 L3179.2 1830.6 L3189.4 1825.5 L3199.6 1819.8 L3209.8 1814.5 L3220 1808.4 L3230.2 1801.2 L3240.4 1794.3 L3250.6 1791 L3260.8 1787.7 L3271 1784.9 L3281.2 1781.5 L3291.4 1775.5 L3301.6 1767.1 L3310.2 1760 L3320.4 1753.2 L3330.6 1746.4 L3340.8 1739.6 L3351 1732.9 L3361.2 1727.1 L3371.4 1718.6 L3381.6 1708.8 L3391.8 1701.9 L3402 1696.2 L3412.6 1690.8 L3422.2 1685.5 L3432.8 1680.1 L3442.3 1671.7 L3451.9 1661.9 L3462.5 1654 L3473.2 1646.6 L3482.7 1639.8 L3493.4 1631.7 L3504 1624.3 L3513.6 1616.8 L3523.1 1609.4 L3533.8 1602 L3543.3 1598.3 L3554 1592.4 L3564.6 1583.9 L3574.1 1576 L3584.8 1566.9 L3594.3 1559 L3605 1551.4 L3614.5 1543.6 L3625.2 1537.3 L3634.7 1529.4 L3645.4 1520.4 L3656.1 1509.7 L3666.3 1499.6 L3676.5 1495 L3686.7 1490.3 L3696.9 1482.4 L3707.1 1475.3 L3717.3 1468.4 L3727.6 1460.7 L3737.8 1450.8 L3748 1442.1 L3758.2 1435.5 L3767.1 1430.1 L3777.3 1424.2 L3787.5 1417.3 L3797.7 1405.9 L3807.9 1393.9 L3818.1 1387.2 L3828.3 1379.1 L3838.5 1371.9 L3848.7 1365.1 L3858.9 1359.2 L3869.1 1348.5 L3879.3 1338.8 L3889.5 1332.6 L3899.7 1325.3 L3909.9 1319.6 L3920.2 1315 L3929.3 1309.1 L3939.5 1300.8 L3949.7 1292.4 L3959.9 1287.4 L3970.2 1284.5 L3980.4 1280.1 L3990.6 1275.2 L4000.8 1268.2 L4011 1260.3 L4021.2 1254.2 L4031.4 1247.6 L4041.6 1243.1 L4051.8 1238 L4062 1231 L4072.2 1221.4 L4082.4 1211.5 L4092.6 1203.3 L4102.8 1197.6 L4113 1191.7 L4123.2 1186.1 L4133.4 1178.9 L4143.2 1171"/>
<path id="y2022" stroke="#2932b2" d="M438 2779.8 L447.9 2771.6 L458.1 2763.3 L468.3 2755 L478.5 2748 L488.7 2740.3 L498.9 2732.7 L509.1 2725 L519.3 2717.6 L529.5 2714.8 L539.7 2708.4 L549.9 2702 L560.1 2696.6 L570.3 2691.2 L580.5 2681.6 L590.7 2671.7 L600.9 2667.3 L611.1 2661 L621.3 2655.1 L630.9 2650 L641.1 2643.4 L651.3 2634.7 L661.5 2623.6 L671.7 2619.7 L681.9 2616.1 L692.1 2610.8 L702.3 2605.5 L721.7 2591.9 L732.5 2584.1 L742.7 2577.5 L752.9 2570.3 L763.8 2562.6 L774 2554.3 L784.2 2547.3 L794.4 2539.7 L804.6 2531.4 L814.8 2524.4 L824.4 2517.1 L834.6 2510.3 L844.8 2502 L855 2495 L865.2 2484.2 L875.4 2474.6 L885.6 2467.6 L895.8 2461.2 L906 2453.6 L916.2 2446.6 L926.4 2438.9 L936.6 2430.5 L946.8 2422.1 L957 2414.3 L967.9 2406.5 L986.2 2394.4 L996.4 2389.1 L1006.6 2379.4 L1016.8 2367.7 L1026.4 2360.9 L1036.6 2358 L1046.3 2355.1 L1066.7 2345.6 L1078.2 2337.9 L1097.3 2317.5 L1117.8 2303.5 L1128 2295.3 L1148.4 2278 L1168.8 2260.1 L1179 2252.4 L1189.2 2247.3 L1209.6 2235.9 L1230 2218 L1240.2 2211.6 L1250.4 2204.7 L1259.3 2198.4 L1279.7 2184.1 L1289.9 2175.9 L1300.2 2167 L1310.4 2157.6 L1320.6 2151.7 L1342 2141.3 L1361.1 2134.2 L1371.3 2127.8 L1381.5 2120.7 L1391.7 2117.7 L1412.1 2107.7 L1422.3 2100.6 L1453 2087 L1463.2 2079.6 L1473.4 2073.8 L1493.8 2064.3 L1514.2 2052.9 L1524.4 2050.1 L1534.6 2048.3 L1544.8 2044.4 L1565.2 2038.6 L1575.4 2033 L1585.6 2025.8 L1595.8 2020.2 L1604.7 2018.2 L1614.9 2014.6 L1625.2 2010 L1645.6 2000.3 L1655.8 1994.7 L1666 1990.4 L1676.2 1986.5 L1686.4 1983.5 L1706.8 1978.6 L1717 1976.1 L1727.2 1971.2 L1737.4 1964.1 L1747.6 1959.8 L1766.7 1951.4 L1777.9 1946.9 L1788.1 1942.5 L1798.3 1936.2 L1808.5 1931.1 L1818.7 1928.8 L1828.9 1926.8 L1839.1 1924 L1849.3 1921.7 L1859.5 1919.6 L1869.7 1914.3 L1879.9 1908.2 L1890.1 1905.1 L1900.3 1903.6 L1910.5 1900.5 L1920.7 1893.9 L1930.9 1887.8 L1941.1 1880.6 L1951.3 1873 L1961.5 1870.9 L1971.7 1867.9 L1981.9 1864 L1992.1 1858.9 L2002.3 1854.6 L2012.6 1847.4 L2022.8 1838.5 L2033 1830.9 L2043.2 1826.3 L2053.4 1823.2 L2063.6 1820.2 L2073.8 1816.3 L2084 1810.7 L2094.2 1801 L2104.4 1794.4 L2114.6 1788.3 L2124.8 1783.2 L2135 1777.3 L2145.2 1772.2 L2155.4 1763.3 L2165.6 1754.3 L2175.8 1750.5 L2184.7 1745.9 L2194.9 1741.6 L2205.2 1737.2 L2215.4 1733.2 L2225.6 1727 L2235.8 1720.4 L2246 1716.6 L2256.2 1712.8 L2266.4 1709.7 L2276.6 1706.4 L2297 1706.4 L2307.2 1699 L2317.4 1696.1 L2327.6 1692.2 L2337.8 1688.5 L2348 1685.6 L2356.6 1680.9 L2366.8 1673.1 L2377 1665.1 L2387.2 1660.5 L2397.4 1657.3 L2407.6 1655.6 L2417.8 1652.2 L2426.7 1648.9 L2436.9 1643.3 L2448.4 1636.4 L2457.3 1634.4 L2467.6 1631.3 L2477.8 1629.8 L2488 1628 L2498.2 1625.5 L2508.4 1620.4 L2518.6 1614.5 L2528.8 1612.4 L2539 1610.7 L2549.2 1607.6 L2559.4 1604.3 L2569.6 1600.7 L2579.8 1594.8 L2590 1588 L2600.2 1585.4 L2610.4 1582.6 L2620.6 1580.1 L2630.8 1577 L2641 1572.7 L2651.2 1565.5 L2661.4 1559.9 L2671.6 1557.3 L2681.8 1554.1 L2692 1551.3 L2702.2 1549.4 L2710.6 1547.2 L2720.8 1543.8 L2731 1538.9 L2741.2 1537 L2751.4 1535.5 L2761.6 1534.2 L2771.8 1532.4 L2782 1531.1 L2792.2 1526.5 L2802.4 1521.4 L2812.7 1519.1 L2822.9 1516.8 L2833.1 1514.3 L2843.3 1511.7 L2853.5 1509.7 L2863.7 1504.8 L2873.9 1497.7 L2884.1 1493.6 L2894.3 1489.8 L2904.5 1486 L2914.7 1481.1 L2924.9 1476.8 L2935.1 1470.4 L2945.3 1462.8 L2955.5 1458.4 L2965.7 1454.8 L2975.9 1451.3 L2986.1 1446.2 L2996.3 1442.9 L3006.5 1439 L3016.7 1435.7 L3026.9 1432.4 L3037.1 1428.8 L3047.3 1425.5 L3057.6 1420.4 L3067.8 1414.8 L3078 1406.6 L3088.2 1399 L3098.4 1393.1 L3108.6 1388.3 L3118.8 1384.2 L3129 1380.4 L3139.2 1376.5 L3149.4 1369.1 L3159.6 1362.8 L3169.8 1355.6 L3180 1350 L3190.2 1346.2 L3200.4 1343.4 L3210.6 1339 L3220.8 1332.1 L3231 1324.5 L3241.2 1318 L3251.4 1312.6 L3261.6 1306.2 L3270.2 1302.5 L3280.4 1296.9 L3290.6 1288.9 L3300.8 1279.9 L3311 1274.5 L3321.2 1270.4 L3331.4 1266.1 L3341.6 1262.8 L3351.8 1258.9 L3362 1252.6 L3372.2 1246.2 L3382.4 1239.8 L3392.7 1236 L3402.9 1232.9 L3413.1 1229.6 L3423.3 1227 L3433.5 1224.5 L3443.7 1221.9 L3453.9 1218.6 L3464.1 1216.6 L3474.3 1215.1 L3484.5 1213.5 L3494.7 1211.2 L3504.9 1209.7 L3515.1 1207.9 L3525.3 1205.4 L3535.5 1199.7 L3545.7 1194.6 L3555.9 1191.1 L3566.1 1187.5 L3576.3 1181.4 L3586.5 1172.7 L3596.7 1167.1 L3606.9 1160.7 L3617.1 1155.6 L3627.3 1150.5 L3637.6 1145.7 L3647.8 1140.3 L3658 1131.6 L3668.2 1125.5 L3678.4 1120.4 L3688.6 1114.8 L3698.8 1108.4 L3709 1101.5 L3719.2 1093.1 L3729.4 1084.2 L3739.6 1078.6 L3749.8 1071.9 L3760 1064.3 L3770.2 1058.7 L3780.4 1049.7 L3790.6 1039 L3800.8 1028.5 L3811 1022 L3821.2 1018.1 L3831.4 1013.6 L3839.3 1010.2 L3849.5 1003.7 L3859.7 993.1 L3869.9 982.3 L3880.2 977.7 L3890.4 973.3 L3900.6 967.7 L3910.8 963.1 L3921 959.3 L3931.2 951.1 L3941.4 943.2 L3951.6 939.4 L3961.8 935.6 L3972 932.5 L3982.2 929.4 L3992.4 926.1 L4002.6 918.5 L4012.8 910.8 L4023 903.9 L4033.2 896.3 L4043.4 889.6 L4053.6 882.8 L4063.8 877.7 L4074 871.8 L4084.2 868.2 L4094.4 858.5 L4104.6 850.9 L4114.8 845.3 L4125.1 838.1 L4135.3 831.7 L4143.2 824.1"/>
<path id="y2023" stroke="#1c2380" d="M438 2783.7 L447.9 2781.8 L458.1 2777.9 L468.3 2771.6 L478.5 2765.4 L488.7 2758.8 L498.9 2753.7 L509.1 2749.5 L519.3 2745.8 L529.5 2740.9 L539.7 2735.5 L549.9 2729.1 L560.1 2723.5 L570.3 2717.3 L580.5 2710.6 L590.7 2704.3 L600.9 2699.5 L611.1 2693.8 L621.3 2690.1 L630.9 2686.7 L641.1 2678.1 L651.3 2669.3 L661.5 2665.4 L671.7 2662.1 L681.9 2658.8 L692.1 2654.6 L702.3 2649.5 L712.5 2641.5 L722.7 2632.9 L730 2629.6 L776.5 2600 L784.2 2594.5 L794.4 2588.5 L804.6 2584.9 L814.8 2579.8 L824.4 2572.2 L834.6 2566.5 L844.8 2559.4 L855 2551.1 L865.2 2541.6 L875.4 2535.2 L885.6 2529.5 L895.8 2523.1 L906 2515.4 L916.2 2510.3 L926.4 2500.8 L936.6 2491.2 L946.8 2484.2 L957 2479.7 L967.9 2473.3 L978.1 2467.6 L988.3 2461.2 L996.6 2455.3 L1005.5 2446.4 L1015.7 2438.2 L1025.9 2430.5 L1046.3 2423.9 L1056.5 2417.8 L1066.7 2413.7 L1078.2 2408.1 L1087.1 2404.2 L1097.3 2399.9 L1107.6 2395.3 L1117.8 2391.5 L1128 2388.9 L1148.4 2380 L1158.6 2376.2 L1179 2367.2 L1189.2 2363.4 L1199.4 2358.3 L1219.8 2351.4 L1250.4 2340.5 L1259.3 2336.1 L1279.7 2329 L1289.9 2323.9 L1300.2 2321.3 L1320.6 2314.2 L1330.8 2312.4 L1341 2310.6 L1351.2 2309.3 L1361.4 2306 L1371.6 2301.4 L1381.8 2297.6 L1402.2 2288.2 L1412.4 2283.1 L1422.6 2277.2 L1432.8 2274.6 L1443 2272.9 L1453.2 2268.3 L1463.4 2264.7 L1473.6 2262.1 L1483.8 2258.1 L1494 2252.4 L1504.2 2247.3 L1514.4 2243.5 L1524.6 2241 L1534.8 2237.1 L1545.1 2233.2 L1555.3 2229.3 L1565.5 2224.1 L1574 2218.7 L1584.2 2215.3 L1594.4 2211.5 L1614.8 2205.7 L1625.1 2202.7 L1645.5 2197.8 L1655.7 2196 L1665.9 2193.2 L1676.1 2192.2 L1686.3 2191.2 L1696.5 2189.6 L1706.7 2187.9 L1716.9 2186.8 L1727.1 2183.8 L1747.5 2181 L1767.9 2180.2 L1778.1 2179.2 L1788.3 2176.4 L1798.5 2175.4 L1808.7 2174.3 L1818.9 2172.6 L1829.1 2170.5 L1839.3 2166.7 L1849.5 2164.6 L1859.7 2159.8 L1869.9 2156.7 L1880.2 2155.2 L1890.4 2153.7 L1900.6 2153.4 L1910.8 2151.9 L1921 2150.1 L1931.2 2147.6 L1940.1 2143.2 L1950.3 2137.9 L1960.5 2135.6 L1970.7 2133 L1980.9 2131.7 L1991.1 2131.2 L2011.5 2129.2 L2031.9 2128.4 L2042.1 2127.7 L2052.3 2125.9 L2062.6 2124.3 L2072.8 2122 L2083 2120.3 L2103.4 2117.7 L2123.8 2117 L2144.2 2116 L2152.8 2115.4 L2163 2114.2 L2173.2 2113.5 L2183.4 2111.2 L2193.6 2109.7 L2214 2108.4 L2224.2 2107.9 L2234.4 2106.9 L2275.2 2105.6 L2285.4 2104.3 L2295.6 2101 L2305.8 2099 L2316 2098.5 L2326.2 2096.2 L2346.6 2094.6 L2356.8 2092.3 L2367 2090.6 L2377.2 2090.1 L2387.4 2089 L2397.7 2088 L2407.9 2087.2 L2418.1 2087 L2428.3 2083.7 L2438.5 2080.4 L2448.7 2078.8 L2458.9 2078.1 L2469.1 2077.6 L2479.3 2076.8 L2489.5 2076.5 L2499.7 2074.7 L2509.9 2071.4 L2520.1 2070.7 L2530.3 2070.4 L2540.5 2069.1 L2560.9 2068.1 L2571.1 2066.3 L2580.1 2062.2 L2740 2062.2 L4143.2 2062.2"/>
<path id="y2024" stroke="#0f144e" d="M438 2788.3 L700 2788.3 L731.9 2788.3 L742.1 2785.7 L762.5 2779.3 L782.9 2765.8 L803.3 2755.6 L823.7 2753.1 L844.1 2748.5 L863.3 2744.9 L874.7 2741.1 L893.9 2737.8 L904.1 2735.2 L914.3 2733.4 L924.5 2730.9 L944.9 2728.1 L965.3 2724.2 L975.5 2721.7 L985.7 2718.6 L995.9 2714.8 L1006.1 2712.5 L1016.3 2711.7 L1026.5 2711.5 L1046.9 2709.2 L1067.3 2701.5 L1077.6 2699.7 L1087.8 2698.5 L1108.2 2695.9 L1118.4 2693.6 L1128.6 2690.6 L1138.8 2686.7 L1149 2684.2 L1169.4 2682.1 L1184.7 2681.1 L1200 2678.6 L1210.2 2677.6 L1220.4 2677 L1240.8 2675.5 L1261.2 2674.5 L1281.6 2672.6 L1300 2670.7 L1342.1 2667.2 L1361.2 2663.8 L1407.1 2660.7 L1422.5 2658.4 L1472.2 2655.4 L1495.2 2653.4 L1533.4 2651.9 L1564 2648.9 L1594.6 2647.3 L1625.3 2644.6 L1655.9 2638.9 L1671.2 2635.5 L1686.5 2634.7 L1717.1 2632.8 L1736.2 2631.6 L1751.5 2630.1 L1774.5 2629 L1805.1 2625.1 L1828.1 2624 L1847.2 2623.2 L1862.5 2621.7 L1908.4 2618.6 L1939 2615.9 L1958.2 2613.6 L1988.8 2611.4 L2034.7 2609.4 L2065.3 2607.5 L2111.2 2606 L2126.5 2604.1 L2157.2 2603.3 L2265.1 2600.6 L2337.8 2598.3 L2429.6 2597.2 L2544.4 2596 L2567.4 2595.3 L2674.5 2594.5 L2701.3 2592.6 L2789.3 2591.8 L2812.3 2590.7 L2850.5 2587.6 L2892.6 2585.7 L2915.6 2582.7 L2942.4 2581.5 L2965.3 2580.4 L2984.4 2578.4 L3011.2 2576.9 L3049.5 2574.6 L3080.1 2573.2 L3118.7 2569.7 L3165.5 2567 L3216.9 2561.9 L3268.4 2558.2 L3319.8 2555.8 L3340.9 2553 L3399.3 2551.6 L3418 2549.7 L3462.5 2548.3 L3492.9 2546.5 L3520.9 2545.1 L3553.7 2541.3 L3595.7 2538.5 L3619.1 2534.8 L3637.8 2532.4 L3656.5 2530.6 L3675.3 2527.3 L3696.3 2518.4 L3708 2515.1 L3736.1 2508.6 L3750.1 2503.9 L3766.5 2496 L3778.1 2491.8 L3796.9 2488 L3817.9 2481.9 L3838.9 2472.6 L3850.6 2469.8 L3878.7 2465.6 L3899.7 2460.4 L3920.8 2452.9 L3941.8 2449.2 L3960.5 2445 L3969.9 2439.8 L3990.9 2426.3 L4021.3 2411.8 L4042.4 2398.7 L4061.1 2388.4 L4082.1 2382.8 L4091.5 2380.4 L4112.5 2378.1 L4124.2 2373.4 L4143.2 2361.7"/>
</g>
<g id="ticks" fill="none" stroke="#000000" stroke-linecap="butt">
<path stroke-width="2.2222" d="M438 2905 v9.72 M753 2905 v9.72 M1037 2905 v9.72 M1352 2905 v9.72 M1656 2905 v9.72 M1971 2905 v9.72 M2275 2905 v9.72 M2590 2905 v9.72 M2905 2905 v9.72 M3209 2905 v9.72 M3524 2905 v9.72 M3828 2905 v9.72 M4143 2905 v9.72"/>
<path stroke-width="1.6667" d="M265 2905 v5.56 M336 2905 v5.56 M407 2905 v5.56 M479 2905 v5.56 M550 2905 v5.56 M621 2905 v5.56 M692 2905 v5.56 M763 2905 v5.56 M834 2905 v5.56 M905 2905 v5.56 M976 2905 v5.56 M1047 2905 v5.56 M1118 2905 v5.56 M1189 2905 v5.56 M1260 2905 v5.56 M1331 2905 v5.56 M1402 2905 v5.56 M1473 2905 v5.56 M1544 2905 v5.56 M1615 2905 v5.56 M1686 2905 v5.56 M1758 2905 v5.56 M1829 2905 v5.56 M1900 2905 v5.56 M1971 2905 v5.56 M2042 2905 v5.56 M2113 2905 v5.56 M2184 2905 v5.56 M2255 2905 v5.56 M2326 2905 v5.56 M2397 2905 v5.56 M2468 2905 v5.56 M2539 2905 v5.56 M2610 2905 v5.56 M2681 2905 v5.56 M2752 2905 v5.56 M2823 2905 v5.56 M2894 2905 v5.56 M2966 2905 v5.56 M3037 2905 v5.56 M3108 2905 v5.56 M3179 2905 v5.56 M3250 2905 v5.56 M3321 2905 v5.56 M3392 2905 v5.56 M3463 2905 v5.56 M3534 2905 v5.56 M3605 2905 v5.56 M3676 2905 v5.56 M3747 2905 v5.56 M3818 2905 v5.56 M3889 2905 v5.56 M3960 2905 v5.56 M4031 2905 v5.56 M4102 2905 v5.56 M4173 2905 v5.56 M4245 2905 v5.56 M4316 2905 v5.56"/>
<path stroke-width="2.2222" d="M253 2788 h-9.72 M253 2500 h-9.72 M253 2212 h-9.72 M253 1923 h-9.72 M253 1635 h-9.72 M253 1347 h-9.72 M253 1058 h-9.72 M253 770 h-9.72 M253 482 h-9.72"/>
</g>
<rect id="spines" x="253" y="344" width="4075" height="2561" fill="none" stroke="#000000" stroke-width="2.2222" stroke-linejoin="miter"/>
<g id="legend">
<path d="M 4371.1 1200.3 L 4722.2 1200.3 Q 4734.4 1200.3 4734.4 1188.1 L 4734.4 386.9 Q 4734.4 374.7 4722.2 374.7 L 4371.1 374.7 Q 4358.9 374.7 4358.9 386.9 L 4358.9 1188.1 Q 4358.9 1200.3 4371.1 1200.3 z" fill="#ffffff" fill-opacity="0.8" stroke="#cccccc" stroke-opacity="0.8" stroke-width="2.7778" stroke-linejoin="miter"/>
<path d="M4383.3 424.15 H4505.5" fill="none" stroke="#31c431" stroke-width="2.7778" stroke-linecap="square"/>
<path d="M4383.3 513.85 H4505.5" fill="none" stroke="#28a028" stroke-width="2.7778" stroke-linecap="square"/>
<path d="M4383.3 603.55 H4505.5" fill="none" stroke="#1f7e1f" stroke-width="2.7778" stroke-linecap="square"/>
<path d="M4383.3 693.24 H4505.5" fill="none" stroke="#135013" stroke-width="2.7778" stroke-linecap="square"/>
<path d="M4383.3 782.94 H4505.5" fill="none" stroke="#7b83df" stroke-width="2.7778" stroke-linecap="square"/>
<path d="M4383.3 872.64 H4505.5" fill="none" stroke="#4953d4" stroke-width="2.7778" stroke-linecap="square"/>
<path d="M4383.3 962.34 H4505.5" fill="none" stroke="#2932b2" stroke-width="2.7778" stroke-linecap="square"/>
<path d="M4383.3 1052.04 H4505.5" fill="none" stroke="#1c2380" stroke-width="2.7778" stroke-linecap="square"/>
<path d="M4383.3 1141.74 H4505.5" fill="none" stroke="#0f144e" stroke-width="2.7778" stroke-linecap="square"/>
</g>
<g id="texts" fill="#000000" font-family="'DejaVu Sans', 'Liberation Sans', sans-serif">
<text x="277.86" y="3055.05" font-size="61.111" transform="rotate(-30 277.86 3055.05)">01-01</text>
<text x="592.54" y="3055.05" font-size="61.111" transform="rotate(-30 592.54 3055.05)">01-02</text>
<text x="876.77" y="3055.05" font-size="61.111" transform="rotate(-30 876.77 3055.05)">01-03</text>
<text x="1191.45" y="3055.05" font-size="61.111" transform="rotate(-30 1191.45 3055.05)">01-04</text>
<text x="1495.98" y="3055.05" font-size="61.111" transform="rotate(-30 1495.98 3055.05)">01-05</text>
<text x="1810.66" y="3055.05" font-size="61.111" transform="rotate(-30 1810.66 3055.05)">01-06</text>
<text x="2115.18" y="3055.05" font-size="61.111" transform="rotate(-30 2115.18 3055.05)">01-07</text>
<text x="2429.86" y="3055.05" font-size="61.111" transform="rotate(-30 2429.86 3055.05)">01-08</text>
<text x="2744.54" y="3055.05" font-size="61.111" transform="rotate(-30 2744.54 3055.05)">01-09</text>
<text x="3049.07" y="3055.05" font-size="61.111" transform="rotate(-30 3049.07 3055.05)">01-10</text>
<text x="3363.75" y="3055.05" font-size="61.111" transform="rotate(-30 3363.75 3055.05)">01-11</text>
<text x="3668.28" y="3055.05" font-size="61.111" transform="rotate(-30 3668.28 3055.05)">01-12</text>
<text x="3982.96" y="3055.05" font-size="61.111" transform="rotate(-30 3982.96 3055.05)">01-01</text>
<text x="2290.65" y="3121.00" font-size="61.111" text-anchor="middle">Day</text>
<text x="233.56" y="2811.22" font-size="61.111" text-anchor="end">0.0</text>
<text x="233.56" y="2522.97" font-size="61.111" text-anchor="end">0.2</text>
<text x="233.56" y="2234.72" font-size="61.111" text-anchor="end">0.4</text>
<text x="233.56" y="1946.47" font-size="61.111" text-anchor="end">0.6</text>
<text x="233.56" y="1658.22" font-size="61.111" text-anchor="end">0.8</text>
<text x="233.56" y="1369.97" font-size="61.111" text-anchor="end">1.0</text>
<text x="233.56" y="1081.72" font-size="61.111" text-anchor="end">1.2</text>
<text x="233.56" y="793.47" font-size="61.111" text-anchor="end">1.4</text>
<text x="233.56" y="505.22" font-size="61.111" text-anchor="end">1.6</text>
<text x="110.65" y="1625.75" font-size="61.111" text-anchor="middle" transform="rotate(-90 110.65 1625.75)">Consumption (Leontief) [TWh]</text>
<text x="4328.30" y="331.32" font-size="61.111" text-anchor="end">time interval: 1hr</text>
<text x="4554.41" y="444.73" font-size="61.111">2016</text>
<text x="4554.41" y="534.43" font-size="61.111">2017</text>
<text x="4554.41" y="624.13" font-size="61.111">2018</text>
<text x="4554.41" y="713.83" font-size="61.111">2019</text>
<text x="4554.41" y="803.53" font-size="61.111">2020</text>
<text x="4554.41" y="893.23" font-size="61.111">2021</text>
<text x="4554.41" y="982.93" font-size="61.111">2022</text>
<text x="4554.41" y="1072.63" font-size="61.111">2023</text>
<text x="4554.41" y="1162.33" font-size="61.111">2024</text>
<text x="1216.06" y="119.72" font-size="73.333" letter-spacing="-0.048">Cumulative consumption (leontief) in [CH] switzerland - biomass</text>
<text x="1913.70" y="201.84" font-size="73.333">01-01-2016 to 01-01-2025</text>
<text x="4003.02" y="66.43" font-size="61.111">Thomas Auriel - CC BY-SA</text>
<text x="3906.20" y="134.87" font-size="61.111">Source: ENTSO-E, IPCC 2014</text>
</g>
</svg>
</body>
</html>
